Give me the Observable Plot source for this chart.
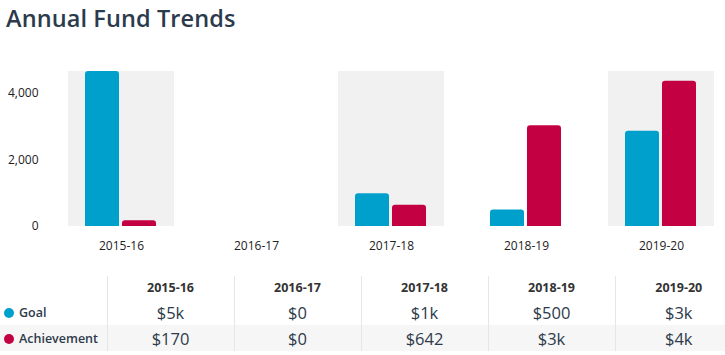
<!DOCTYPE html>
<html>
<head>
<meta charset="utf-8">
<script src="https://cdn.jsdelivr.net/npm/d3@7"></script>
<script src="https://cdn.jsdelivr.net/npm/@observablehq/plot@0.6"></script>
<style>
  html, body { margin: 0; padding: 0; background: #fff; overflow: hidden; }
  body { width: 725px; height: 355px; font-family: "Open Sans", sans-serif; color: #2d3b4a; }
  #title { height: 40px; box-sizing: border-box; padding: 2px 0 0 6px; font-size: 23.5px; font-weight: 600; color: #2b3a4c; letter-spacing: 0.1px; }
  #chart svg { display: block; }
  table { border-collapse: collapse; table-layout: fixed; width: 742px; margin-top: 16px; }
  td, th { padding: 0; text-align: center; }
  th { font-size: 12.5px; font-weight: 700; color: #333; height: 23px; vertical-align: middle; }
  td { font-size: 16.5px; color: #2d3b4a; height: 26px; vertical-align: middle; }
  td.sep, th.sep { border-left: 1px solid #e6e6e6; }
  td.lab { text-align: left; font-size: 12.5px; font-weight: 600; padding-left: 4px; white-space: nowrap; }
  .dot { display: inline-block; width: 10px; height: 10px; border-radius: 50%; margin-right: 5px; vertical-align: -1px; }
  tr.alt td { background: #f6f6f6; }
</style>
</head>
<body>
<div id="title">Annual Fund Trends</div>
<div id="chart"></div>
<div id="tbl"></div>
<script>
const years = ["2015-16", "2016-17", "2017-18", "2018-19", "2019-20"];
const series = ["Goal", "Achievement"];
const goal = [4662, 0, 985, 500, 2866];
const achievement = [170, 0, 642, 3030, 4370];
const goalLabels = ["$5k", "$0", "$1k", "$500", "$3k"];
const achievementLabels = ["$170", "$0", "$642", "$3k", "$4k"];
const shadedYears = ["2015-16", "2017-18", "2019-20"];
const colors = ["#00a0cc", "#c30042"];

const rows = [];
years.forEach((y, i) => {
  rows.push({year: y, series: "Goal", value: goal[i]});
  rows.push({year: y, series: "Achievement", value: achievement[i]});
});
const yMax = d3.max(rows, d => d.value);

const chart = Plot.plot({
  width: 725,
  height: 220,
  marginTop: 31,
  marginBottom: 34,
  marginLeft: 66,
  marginRight: 8,
  style: {fontFamily: "Open Sans, sans-serif", fontSize: "12px", color: "#222", background: "transparent"},
  fx: {domain: years, padding: 0.213, label: null, tickSize: 0, tickPadding: 15},
  x: {domain: series, paddingInner: 0.079, paddingOuter: 0.447, axis: null},
  y: {domain: [0, yMax], axis: null},
  color: {domain: series, range: colors},
  marks: [
    Plot.axisY({ticks: [0, 2000, 4000], tickFormat: d3.format(","), tickSize: 0, tickPadding: 30, label: null, facetAnchor: "left"}),
    Plot.barY(shadedYears, {fx: d => d, y1: 0, y2: yMax, fill: "#f1f1f1"}),
    Plot.barY(rows.filter(d => d.value > 0), {fx: "year", x: "series", y: "value", fill: "series", rx: 3, ry: 3}),
    Plot.barY(rows, {fx: "year", x: "series", y1: 0, y2: d => d.value / 2, fill: "series"})
  ]
});
document.getElementById("chart").appendChild(chart);

// Data table
const table = document.createElement("table");
const cg = document.createElement("colgroup");
const c0 = document.createElement("col"); c0.style.width = "107px"; cg.appendChild(c0);
years.forEach(() => { const c = document.createElement("col"); c.style.width = "127px"; cg.appendChild(c); });
table.appendChild(cg);
const hr = document.createElement("tr");
const h0 = document.createElement("th"); hr.appendChild(h0);
years.forEach(y => { const th = document.createElement("th"); th.className = "sep"; th.textContent = y; hr.appendChild(th); });
table.appendChild(hr);
[[series[0], goalLabels, colors[0], ""], [series[1], achievementLabels, colors[1], "alt"]].forEach(([name, labels, col, cls]) => {
  const tr = document.createElement("tr");
  if (cls) tr.className = cls;
  const td = document.createElement("td");
  td.className = "lab";
  const dot = document.createElement("span"); dot.className = "dot"; dot.style.background = col;
  td.appendChild(dot);
  td.appendChild(document.createTextNode(name));
  tr.appendChild(td);
  labels.forEach(l => { const c = document.createElement("td"); c.className = "sep"; c.textContent = l; tr.appendChild(c); });
  table.appendChild(tr);
});
document.getElementById("tbl").appendChild(table);
</script>
</body>
</html>
